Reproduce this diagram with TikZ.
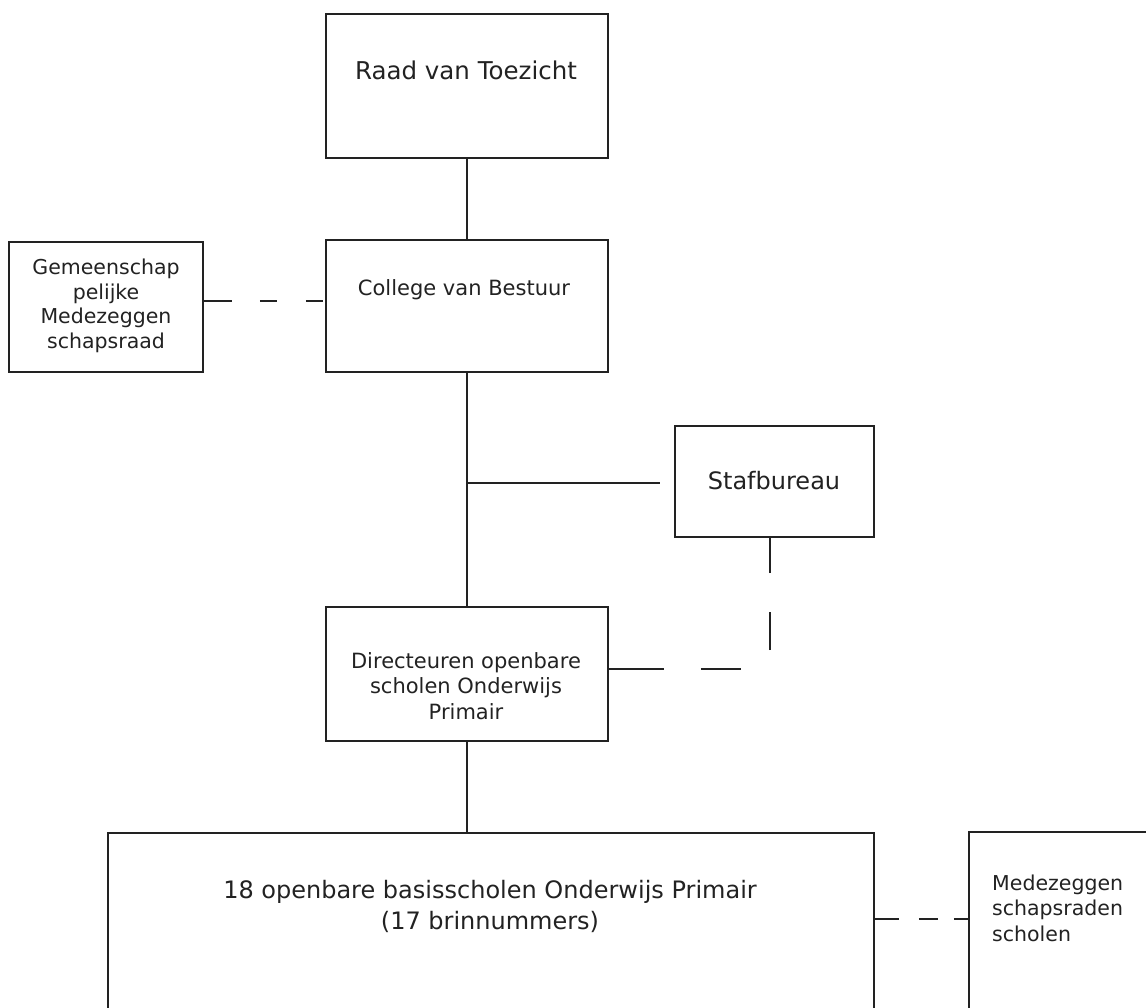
\documentclass[tikz,border=0pt]{standalone}
\usepackage{fontspec}
\setmainfont{DejaVu Sans}
\definecolor{ink}{HTML}{222222}
\begin{document}
\begin{tikzpicture}[x=1pt,y=-1pt,
  box/.style={draw=ink,line width=1.9pt,rectangle,inner sep=0pt,anchor=north west},
  txt/.style={text=ink,inner sep=0pt,align=center},
  link/.style={draw=ink,line width=1.9pt},
]
\useasboundingbox (0,0) rectangle (1146,1007);
% boxes
\node[box,minimum width=282pt,minimum height=144pt] (raad) at (325,13) {};
\node[box,minimum width=282pt,minimum height=132pt] (college) at (325,239) {};
\node[box,minimum width=194pt,minimum height=130pt] (gem) at (8,241) {};
\node[box,minimum width=199pt,minimum height=111pt] (staf) at (674,425) {};
\node[box,minimum width=282pt,minimum height=134pt] (dir) at (325,606) {};
\node[box,minimum width=766pt,minimum height=182pt] (bottom) at (107,832) {};
\node[box,minimum width=190pt,minimum height=183pt] (mede) at (968,831) {};
% texts
\node[txt,font=\fontsize{24.5}{29}\selectfont] (traad) at (466,70) {Raad van Toezicht};
\node[txt,font=\fontsize{21}{25}\selectfont] (tcollege) at (464,290) {College van Bestuur};
\node[txt,font=\fontsize{20.5}{24.5}\selectfont] (tgem) at (106,306) {Gemeenschap\\pelijke\\Medezeggen\\schapsraad};
\node[txt,font=\fontsize{24}{28}\selectfont] (tstaf) at (774,481) {Stafbureau};
\node[txt,font=\fontsize{21}{25.5}\selectfont] (tdir) at (466,686) {Directeuren openbare\\scholen Onderwijs\\Primair};
\node[txt,font=\fontsize{24}{31}\selectfont] (tbottom) at (490,906) {18 openbare basisscholen Onderwijs Primair\\(17 brinnummers)};
\node[txt,align=left,anchor=west,font=\fontsize{20.5}{25.5}\selectfont] (tmede) at (992,908) {Medezeggen\\schapsraden\\scholen};
% connectors
\draw[link] (raad.south) -- (college.north);
\draw[link] (college.south) -- (dir.north);
\coordinate (branch) at (466,483);
\draw[link] (branch) -- ([xshift=-14pt]branch -| staf.west);
\draw[link] (dir.south) -- (dir.south |- bottom.north);
\draw[link,dash pattern=on 28pt off 28pt on 17pt off 29pt on 17pt off 10pt]
  ([yshift=6pt]gem.east) -- ([yshift=6pt]gem.east -| college.west);
\draw[link,dash pattern=on 55pt off 37pt on 40pt off 48pt on 38pt off 39pt on 40pt]
  ([yshift=5pt]dir.east) -| ([xshift=-4.5pt]staf.south);
\draw[link,dash pattern=on 24pt off 20pt on 19pt off 16pt on 20pt]
  ([yshift=5pt]bottom.east) -- ([yshift=5pt]bottom.east -| mede.west);
\end{tikzpicture}
\end{document}
